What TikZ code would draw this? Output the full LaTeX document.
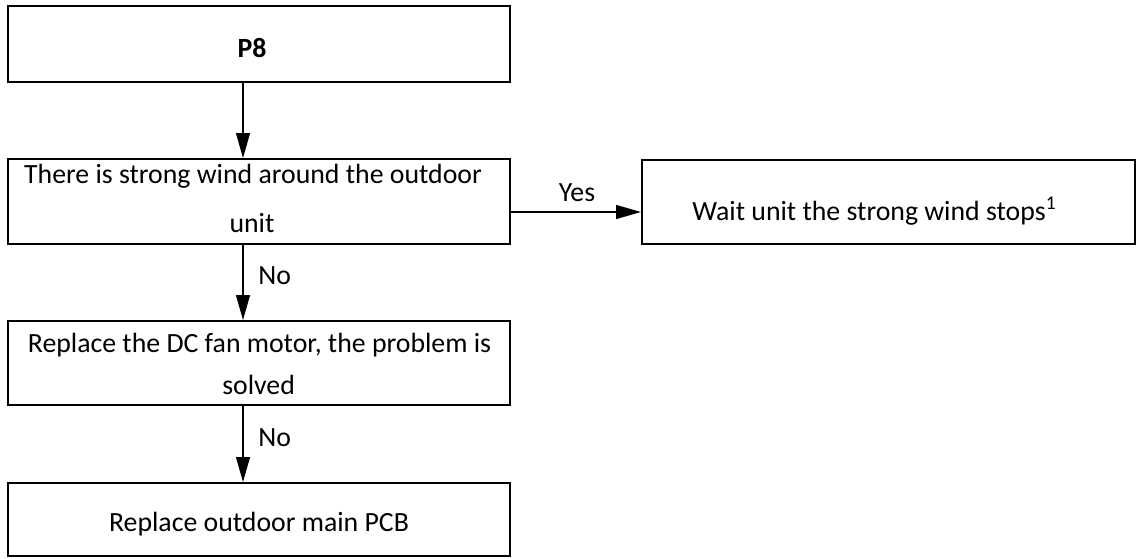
\documentclass[tikz,border=0pt]{standalone}
\usepackage{fontspec}
\setmainfont{Carlito}
\usetikzlibrary{arrows.meta}
\begin{document}
\begin{tikzpicture}[x=0.5pt,y=-0.5pt,
  box/.style={draw,line width=1pt,inner sep=0pt},
  txt/.style={anchor=base,inner sep=0pt,font=\fontsize{13.9pt}{16pt}\selectfont},
  lbl/.style={anchor=base west,inner sep=0pt,font=\fontsize{13.9pt}{16pt}\selectfont},
  arr/.style={-{Triangle[length=12.5pt,width=7pt]},line width=0.65pt}]
\useasboundingbox (0,0) rectangle (1137,558);
% boxes
\node[box,minimum width=251pt,minimum height=38pt] (p8) at (259,44) {};
\node[box,minimum width=251pt,minimum height=42.5pt] (wind) at (259,201.5) {};
\node[box,minimum width=246.5pt,minimum height=42pt] (wait) at (888.5,202) {};
\node[box,minimum width=251pt,minimum height=42pt] (fan) at (259,363) {};
\node[box,minimum width=251pt,minimum height=36.5pt] (pcb) at (259,519.5) {};
% texts
\node[txt,font=\fontsize{13.9pt}{16pt}\selectfont\bfseries] (p8t) at (252,57) {P8};
\node[txt] (wind1) at (253,183) {There is strong wind around the outdoor};
\node[txt] (wind2) at (252,232) {unit};
\node[txt] (wait1) at (874.5,220) {Wait unit the strong wind stops\textsuperscript{1}};
\node[txt] (fan1) at (259.5,352) {Replace the DC fan motor, the problem is};
\node[txt] (fan2) at (258.6,394) {solved};
\node[txt] (pcb1) at (259,531) {Replace outdoor main PCB};
% connectors
\draw[arr] ([xshift=-8pt]p8.south) -- ([xshift=-8pt]wind.north);
\draw[arr] ([xshift=-8pt]wind.south) -- ([xshift=-8pt]fan.north);
\draw[arr] ([xshift=-8pt]fan.south) -- ([xshift=-8pt]pcb.north);
\draw[arr] ([yshift=-5.25pt]wind.east) -- ([yshift=-5.25pt]wind.east -| wait.west);
% labels
\node[txt] (yes) at (577,201.7) {Yes};
\node[lbl] (no1) at (258,284) {No};
\node[lbl] (no2) at (258,446) {No};
\end{tikzpicture}
\end{document}
